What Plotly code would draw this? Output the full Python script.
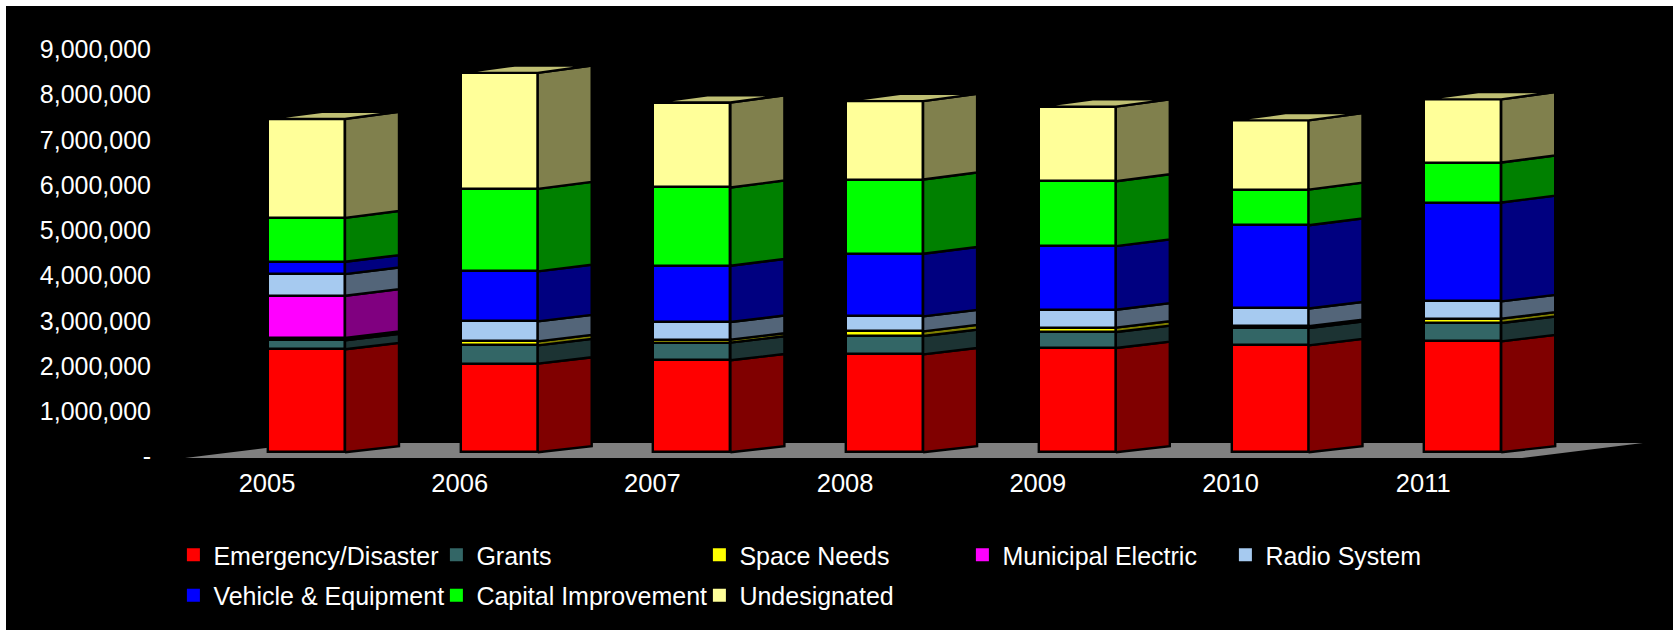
import plotly.graph_objects as go

# Reserve contributions by year, in millions of dollars, stacked bottom to top
years = [2005, 2006, 2007, 2008, 2009, 2010, 2011]
emergency = [2.274, 1.957, 2.031, 2.163, 2.303, 2.362, 2.450]
grants = [0.200, 0.405, 0.390, 0.405, 0.353, 0.384, 0.406]
space_needs = [0.050, 0.088, 0.066, 0.103, 0.096, 0.040, 0.095]
municipal = [0.934, 0, 0, 0, 0, 0, 0]
radio = [0.478, 0.441, 0.390, 0.331, 0.397, 0.390, 0.382]
vehicle = [0.272, 1.104, 1.244, 1.383, 1.405, 1.839, 2.185]
capital = [0.971, 1.825, 1.729, 1.641, 1.435, 0.788, 0.883]
undesignated = [2.186, 2.563, 1.877, 1.732, 1.649, 1.530, 1.396]

series = [
    ("Emergency/Disaster", emergency, "#FF0000", "#800000"),
    ("Grants", grants, "#336666", "#1C3333"),
    ("Space Needs", space_needs, "#FFFF00", "#808000"),
    ("Municipal Electric", municipal, "#FF00FF", "#800080"),
    ("Radio System", radio, "#A6CAF0", "#536579"),
    ("Vehicle & Equipment", vehicle, "#0000FF", "#000080"),
    ("Capital Improvement", capital, "#00FF00", "#008000"),
    ("Undesignated", undesignated, "#FFFF99", "#80804D"),
]
TOP_FACE = "#BFBF73"
FLOOR = "#808080"
EDGE = dict(color="black", width=2.4)

W, H = 1673, 630
M_L, M_T, M_B = 155, 30, 172
PLOT_W, PLOT_H = W - M_L, H - M_T - M_B

PX_PER_YEAR = 192.7
PX_PER_MILLION = 45.25
X0_PX = 267      # pixel of the 2005 tick
Y0_PX = 456.5    # pixel of the zero tick


def x_units(px):
    return 2005 + (px - X0_PX) / PX_PER_YEAR


def y_units(px):
    return (Y0_PX - px) / PX_PER_MILLION


# Projection of the 3-D columns onto the flat axes
BAR_WIDTH = 77 / PX_PER_YEAR
BAR_SHIFT = 39.5 / PX_PER_YEAR
DEPTH_X = 54 / PX_PER_YEAR
FRONT_LIFT = 4.3 / PX_PER_MILLION


def rise(level):
    # Receding edges climb a little faster higher up the column
    return (6 + 1.3 * level / 8) / PX_PER_MILLION


fig = go.Figure()

cum = [FRONT_LIFT] * len(years)
for name, values, front, side in series:
    bases = list(cum)
    tops = [b + v for b, v in zip(bases, values)]
    row2 = name in ("Vehicle & Equipment", "Capital Improvement", "Undesignated")

    # Front faces
    fig.add_trace(go.Bar(
        x=[y + BAR_SHIFT for y in years],
        y=[v if v > 0 else None for v in values],
        base=bases,
        width=BAR_WIDTH,
        name=name,
        marker=dict(color=front, line=EDGE),
        showlegend=False,
        hovertemplate="%{x:.0f}<br>" + name + "<extra></extra>",
    ))

    # Right-hand faces
    xs, ys = [], []
    for yr, b, t, v in zip(years, bases, tops, values):
        if v <= 0:
            continue
        xr = yr + BAR_SHIFT + BAR_WIDTH / 2
        xs += [xr, xr + DEPTH_X, xr + DEPTH_X, xr, xr, None]
        ys += [b, b + rise(b), t + rise(t), t, b, None]
    fig.add_trace(go.Scatter(
        x=xs, y=ys, mode="lines", fill="toself", fillcolor=side,
        line=EDGE, showlegend=False, hoverinfo="skip",
    ))

    # Legend key
    fig.add_trace(go.Scatter(
        x=[None], y=[None], mode="markers", name=name,
        marker=dict(symbol="square", size=13, color=front),
        legend="legend2" if row2 else "legend",
        hoverinfo="skip",
    ))
    cum = tops

# Top caps of the columns
xs, ys = [], []
for yr, t in zip(years, cum):
    xl = yr + BAR_SHIFT - BAR_WIDTH / 2
    xr = yr + BAR_SHIFT + BAR_WIDTH / 2
    r = rise(t)
    xs += [xl, xl + DEPTH_X, xr + DEPTH_X, xr, xl, None]
    ys += [t, t + r, t + r, t, t, None]
fig.add_trace(go.Scatter(
    x=xs, y=ys, mode="lines", fill="toself", fillcolor=TOP_FACE,
    line=EDGE, showlegend=False, hoverinfo="skip",
))

floor_path = "M {} {} L {} {} L {} {} L {} {} Z".format(
    x_units(185), y_units(458), x_units(1522), y_units(458),
    x_units(1643), y_units(443), x_units(306), y_units(443),
)

legend_common = dict(
    orientation="h", xref="container", yref="container",
    xanchor="left", yanchor="middle", x=173.4 / W,
    entrywidth=218, entrywidthmode="pixels",
    bgcolor="rgba(0,0,0,0)", traceorder="normal",
    font=dict(family="Liberation Sans", size=25, color="white"),
)

fig.update_layout(
    width=W, height=H, autosize=False,
    margin=dict(l=M_L, r=0, t=M_T, b=M_B, pad=0, autoexpand=False),
    paper_bgcolor="white", plot_bgcolor="rgba(0,0,0,0)",
    barmode="overlay", bargap=0,
    font=dict(family="Liberation Sans", size=25, color="white"),
    xaxis=dict(
        range=[x_units(M_L), x_units(W)],
        tickmode="array", tickvals=years, ticktext=[str(y) for y in years],
        showgrid=False, zeroline=False, showline=False, ticks="",
        ticklabelstandoff=7,
        tickfont=dict(size=25.5),
    ),
    yaxis=dict(
        range=[y_units(H - M_B), y_units(M_T)],
        tickmode="array", tickvals=list(range(10)),
        ticktext=["-"] + ["{:,}".format(i * 1000000) for i in range(1, 10)],
        showgrid=False, zeroline=False, showline=False, ticks="",
        ticklabelstandoff=3,
    ),
    legend=dict(y=1 - 555 / H, **legend_common),
    legend2=dict(y=1 - 595.5 / H, **legend_common),
    shapes=[
        dict(type="rect", xref="paper", yref="paper", layer="below",
             x0=(6 - M_L) / PLOT_W, x1=1,
             y0=-M_B / PLOT_H, y1=(H - 6 - M_B) / PLOT_H,
             fillcolor="black", line=dict(width=0)),
        dict(type="path", xref="x", yref="y", layer="below", path=floor_path,
             fillcolor=FLOOR, line=dict(width=0)),
    ],
)

fig.write_html("out.html")
